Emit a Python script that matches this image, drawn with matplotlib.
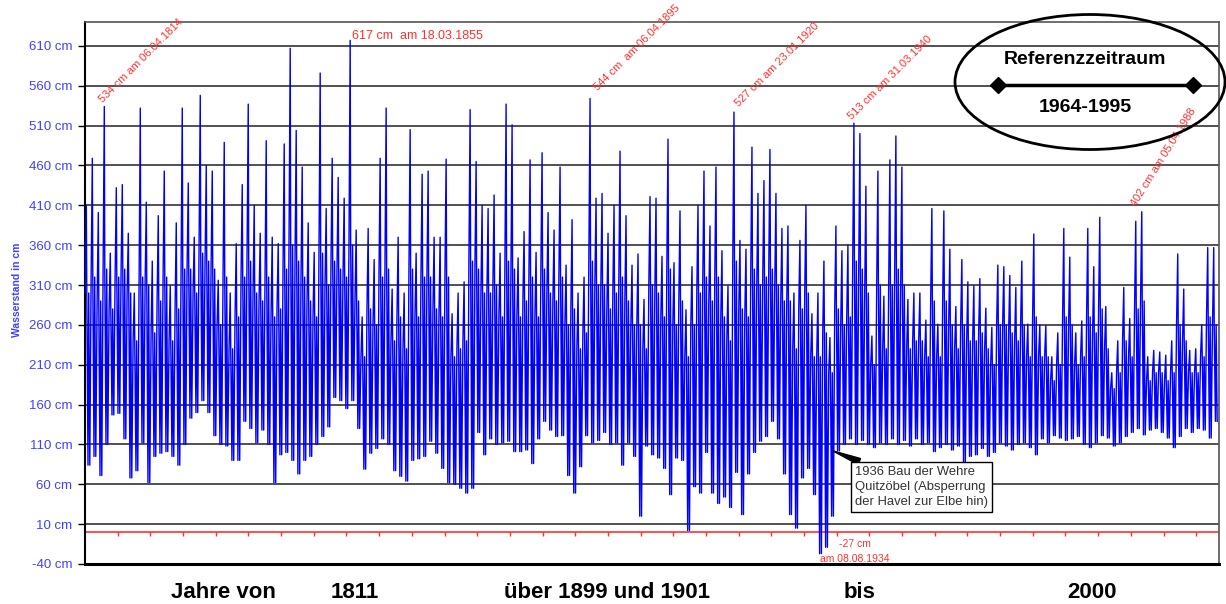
import numpy as np
import matplotlib.pyplot as plt
from matplotlib.patches import Ellipse

# years shown (1900 is missing in the record)
years = list(range(1811, 1900)) + list(range(1901, 2001))

# annual highest water level (cm)
peak = [410, 469, 401, 534, 350, 432, 436, 375, 300, 532,
        414, 340, 397, 453, 309, 388, 532, 438, 370, 548,
        460, 453, 316, 489, 300, 362, 436, 537, 410, 375,
        491, 370, 362, 487, 607, 504, 458, 388, 351, 576,
        406, 469, 445, 419, 617, 379, 270, 381, 342, 469,
        532, 305, 370, 300, 505, 350, 449, 453, 370, 370,
        468, 274, 300, 314, 530, 465, 410, 406, 423, 350,
        537, 511, 344, 377, 467, 351, 476, 401, 379, 458,
        335, 392, 300, 320, 544, 419, 425, 375, 410, 478,
        397, 335, 349, 292, 421, 419, 346, 493, 338, 403,
        279, 333, 410, 453, 384, 458, 353, 309, 527, 366,
        355, 483, 425, 441, 480, 425, 381, 384, 300, 366,
        410, 274, 300, 340, 244, 384, 353, 360, 513, 500,
        434, 246, 453, 296, 467, 497, 458, 292, 300, 300,
        266, 406, 261, 403, 355, 283, 342, 314, 309, 318,
        281, 257, 335, 333, 322, 307, 340, 261, 374, 260,
        259, 220, 250, 381, 345, 250, 265, 381, 333, 395,
        283, 200, 240, 307, 268, 390, 402, 220, 228, 226,
        222, 240, 349, 305, 228, 230, 260, 357, 357]

# typical upper level of the dense band per year (cm)
high = [300, 320, 290, 330, 280, 320, 330, 300, 240, 320,
        310, 250, 290, 320, 240, 280, 330, 330, 300, 350,
        340, 330, 260, 320, 230, 270, 320, 340, 300, 290,
        320, 270, 280, 330, 360, 340, 320, 290, 270, 350,
        310, 340, 330, 320, 360, 290, 220, 280, 260, 320,
        330, 240, 270, 230, 330, 270, 320, 320, 280, 270,
        320, 220, 230, 240, 340, 330, 300, 300, 310, 270,
        340, 330, 270, 290, 320, 270, 330, 300, 290, 320,
        260, 280, 230, 250, 340, 310, 310, 280, 300, 320,
        290, 260, 260, 230, 310, 300, 270, 330, 260, 290,
        220, 260, 300, 320, 290, 320, 270, 240, 340, 280,
        270, 330, 310, 320, 330, 310, 290, 290, 230, 280,
        300, 220, 220, 250, 200, 280, 260, 270, 340, 330,
        300, 210, 310, 230, 310, 330, 310, 230, 240, 240,
        220, 290, 220, 290, 260, 230, 260, 240, 240, 250,
        230, 210, 260, 260, 250, 240, 260, 220, 270, 220,
        220, 190, 210, 270, 260, 210, 220, 270, 250, 280,
        230, 180, 200, 240, 220, 280, 290, 190, 200, 200,
        190, 200, 260, 240, 200, 200, 220, 270, 260]

# annual lowest water level (cm)
low = [84, 95, 71, 110, 147, 149, 117, 68, 77, 112,
       62, 95, 99, 101, 95, 84, 110, 143, 150, 165,
       150, 121, 110, 108, 90, 90, 139, 130, 112, 128,
       110, 62, 97, 100, 90, 73, 90, 95, 110, 120,
       132, 169, 165, 155, 165, 130, 79, 99, 105, 117,
       110, 77, 70, 64, 90, 92, 95, 114, 99, 80,
       62, 60, 55, 49, 55, 125, 97, 117, 110, 112,
       114, 101, 101, 103, 86, 117, 139, 128, 120, 121,
       71, 49, 82, 121, 112, 115, 125, 110, 112, 84,
       112, 95, 20, 108, 97, 93, 80, 47, 93, 90,
       2, 57, 49, 100, 49, 36, 44, 31, 75, 22,
       73, 100, 114, 120, 139, 117, 73, 22, 5, 68,
       80, 47, -27, -19, 20, 102, 110, 117, 110, 115,
       110, 106, 112, 110, 117, 110, 115, 108, 117, 110,
       112, 101, 106, 110, 103, 108, 88, 95, 97, 105,
       95, 100, 112, 108, 103, 110, 112, 106, 97, 117,
       112, 121, 118, 115, 117, 120, 110, 106, 112, 121,
       118, 108, 112, 120, 125, 130, 122, 128, 130, 125,
       118, 106, 120, 130, 125, 130, 128, 118, 139]

# labelled maxima: year, text
peak_notes = [(1814, "534 cm am 06.04.1814"),
              (1855, "617 cm  am 18.03.1855"),
              (1895, "544 cm  am 06.04.1895"),
              (1920, "527 cm am 23.01.1920"),
              (1940, "513 cm am 31.03.1940"),
              (1988, "402 cm am 05.04.1988")]

yticks = list(range(-40, 611, 50))
bottom_texts = ["Jahre von", "1811", "über 1899 und 1901", "bis", "2000"]

plt.rcParams['font.family'] = ['Liberation Sans', 'DejaVu Sans']
W, H = 1226, 604
BLUE = '#0000ff'
TBLUE = '#4040ff'
RED = '#ff3030'

fig = plt.figure(figsize=(W / 100, H / 100), dpi=100)
ax = fig.add_axes([85 / W, 40 / H, 1134 / W, 542 / H])

# within a year: winter level, flood peak, winter level, low, winter level, low
t, v = [], []
for i in range(len(years)):
    t += [i + 0.02, i + 0.22, i + 0.30, i + 0.50, i + 0.62, i + 0.80]
    v += [high[i], peak[i], high[i], low[i], high[i], low[i]]
ax.plot(t, v, color=BLUE, lw=1.0, zorder=3)

ax.set_xlim(0, len(years) + 0.1)
ax.set_ylim(-40, 640)
ax.set_yticks(yticks)
ax.set_yticklabels([f"{y} cm" for y in yticks], color=TBLUE, fontsize=9.5)
ax.tick_params(axis='y', length=5, width=1, pad=4)
ax.set_xticks([])
ax.set_axisbelow(True)
ax.yaxis.grid(True, color='#222222', lw=1.1)

ax.spines['left'].set_linewidth(1.5)
ax.spines['bottom'].set_linewidth(2.2)
for s in ['top', 'right']:
    ax.spines[s].set_color('#555555')
    ax.spines[s].set_linewidth(1.2)

# red zero line with small ticks
ax.axhline(0, color=RED, lw=1.2, zorder=2)
ax.vlines(np.arange(5.45, len(years), 5.45), -5, 0, color=RED, lw=1, zorder=2)

# peak labels
offsets = {1814: (0, 2, 45), 1855: (2, -2, 0), 1895: (9, 6, 45),
           1920: (6, 4, 45), 1940: (0, 2, 45), 1988: (-4, 4, 58)}
for yr, txt in peak_notes:
    i = years.index(yr)
    dx, dy, rot = offsets[yr]
    fs = 9 if rot == 0 else 8
    ax.annotate(txt, xy=(i + 0.22, peak[i]), xytext=(dx, dy),
                textcoords='offset pixels', rotation=rot,
                rotation_mode='anchor', ha='left', va='bottom',
                color=RED, fontsize=fs, annotation_clip=False)

# lowest value
imin = int(np.argmin(low))
ax.annotate(f"{low[imin]} cm", xy=(imin + 0.5, low[imin]), xytext=(19, 10),
            textcoords='offset pixels', ha='left', va='center',
            color=RED, fontsize=7.5, annotation_clip=False)
ax.annotate(f"am 08.08.{years[imin]}", xy=(imin + 0.5, low[imin]),
            xytext=(0, -5), textcoords='offset pixels', ha='left',
            va='center', color=RED, fontsize=7.5, annotation_clip=False)

# weir note
ax.annotate("1936 Bau der Wehre\nQuitzöbel (Absperrung\nder Havel zur Elbe hin)",
            xy=(124.7, 102), xytext=(855, H - 466), textcoords='figure pixels',
            ha='left', va='top', fontsize=9.4, color='#333333', linespacing=1.32,
            bbox=dict(boxstyle='square,pad=0.3', fc='white', ec='black', lw=1),
            arrowprops=dict(arrowstyle='wedge,tail_width=0.5', color='black',
                            shrinkA=0, shrinkB=0), zorder=5)

# reference period ellipse
ax.add_patch(Ellipse(((1090 - 85) / 1134, (564 - 82) / 542), 270 / 1134, 135 / 542,
                     transform=ax.transAxes, fill=False, ec='black', lw=2,
                     clip_on=False, zorder=6))
fig.text(1085 / W, 1 - 60 / H, "Referenzzeitraum", ha='center', va='center',
         fontsize=14, fontweight='bold')
fig.text(1085 / W, 1 - 108 / H, "1964-1995", ha='center', va='center',
         fontsize=14, fontweight='bold')
ax.plot([998 / W, 1193 / W], [1 - 85 / H, 1 - 85 / H], transform=fig.transFigure,
        color='black', lw=2.5, marker='D', markersize=8, clip_on=False, zorder=6)

fig.text(17 / W, 1 - 290 / H, "Wasserstand in cm", rotation=90, ha='center',
         va='center', color=TBLUE, fontsize=7.5, fontweight='bold')

for x, s in zip([223, 355, 607, 860, 1092], bottom_texts):
    fig.text(x / W, 1 - 592 / H, s, ha='center', va='center',
             fontsize=16, fontweight='bold')

fig.savefig("out.png", dpi=100)
